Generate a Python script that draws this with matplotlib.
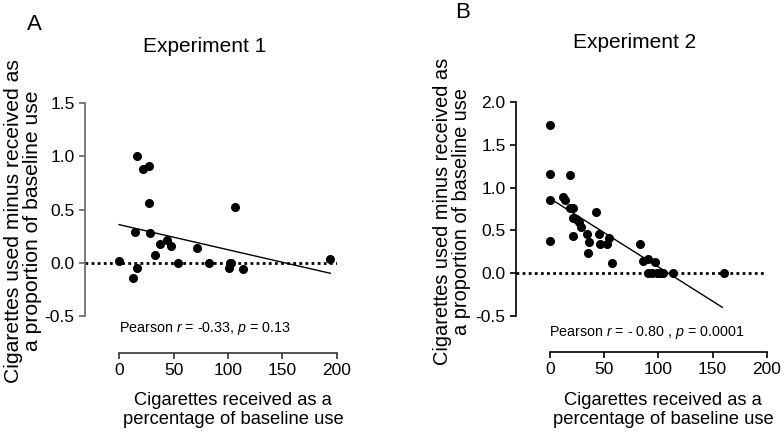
import numpy as np
import matplotlib
matplotlib.use('Agg')
import matplotlib.pyplot as plt

plt.rcParams['font.family'] = ['Liberation Sans', 'DejaVu Sans']
plt.rcParams['mathtext.fontset'] = 'custom'
plt.rcParams['mathtext.rm'] = 'Liberation Sans'
plt.rcParams['mathtext.it'] = 'Liberation Sans:italic'

# Experiment 1
x1 = [0, 12.5, 16.5, 14.4, 16.5, 21.7, 27.8, 27.8, 28.4, 33, 37.6, 44.3, 47.4,
      54, 71.2, 82.9, 101.8, 102.5, 101, 106.4, 114, 193.9]
y1 = [0.02, -0.14, -0.05, 0.29, 1.00, 0.88, 0.91, 0.56, 0.28, 0.08, 0.18, 0.22, 0.16,
      0.0, 0.14, 0.0, 0.0, 0.0, -0.05, 0.53, -0.06, 0.035]
fit1_x = [0, 194]
fit1_y = [0.36, -0.096]

# Experiment 2
x2 = [0, 0, 0, 0, 18.5, 11.7, 13.5, 18.5, 21.5, 20.9, 24, 27, 28.3, 21.5, 34.5,
      35.7, 35, 42.5, 45.5, 46.2, 52.3, 54.8, 57.6, 83, 86.2, 90.5, 97.3,
      90.5, 94.2, 98.5, 101.5, 104.6, 113.3, 160.7]
y2 = [1.73, 1.16, 0.86, 0.38, 1.15, 0.89, 0.86, 0.76, 0.76, 0.65, 0.63, 0.60, 0.54,
      0.44, 0.46, 0.36, 0.23, 0.71, 0.46, 0.34, 0.34, 0.41, 0.12, 0.34, 0.14,
      0.16, 0.13, 0.0, 0.0, 0.0, 0.0, 0.0, 0.0, 0.0]
fit2_x = [3, 159]
fit2_y = [0.85, -0.40]

xticks = [0, 50, 100, 150, 200]
yticks1 = [-0.5, 0.0, 0.5, 1.0, 1.5]
yticks2 = [-0.5, 0.0, 0.5, 1.0, 1.5, 2.0]

W, H = 784, 436
fig = plt.figure(figsize=(7.84, 4.36), dpi=100)
axA = fig.add_axes([0.1084, 0.191, 0.3214, 0.5728])
axB = fig.add_axes([0.6582, 0.1933, 0.3198, 0.5721])

xlab = 'Cigarettes received as a\npercentage of baseline use'
ylab = 'Cigarettes used minus received as\na proportion of baseline use'


def style(ax, x, y, fx, fy, yticks, ylim, leftcol, botcol, txt):
    ax.axhline(0, color='black', lw=2, ls=(0, (1, 1.2)), zorder=1)
    ax.plot(fx, fy, color='black', lw=1, zorder=2)
    ax.plot(x, y, 'o', color='black', ms=5.5, zorder=3, clip_on=False)
    ax.set_xlim(-31.3, 200)
    ax.set_ylim(*ylim)
    ax.set_xticks(xticks)
    ax.set_yticks(yticks)
    ax.set_yticklabels([f'{t:.1f}' for t in yticks])
    ax.spines['top'].set_visible(False)
    ax.spines['right'].set_visible(False)
    ax.spines['bottom'].set_bounds(0, 200)
    ax.spines['left'].set_bounds(yticks[0], yticks[-1])
    ax.spines['left'].set_color(leftcol)
    ax.spines['bottom'].set_color(botcol)
    ax.spines['left'].set_linewidth(1.2)
    ax.spines['bottom'].set_linewidth(1.2)
    ax.tick_params(axis='y', colors=leftcol, labelcolor='black', labelsize=12.5,
                   length=4, width=1.2)
    ax.tick_params(axis='x', colors=botcol, labelcolor='black', labelsize=12.5,
                   length=4, width=1.2)
    ax.text(-0.5, -0.61 if ylim[0] > -0.9 else -0.69, txt, fontsize=10.3,
            ha='left', va='center')


style(axA, x1, y1, fit1_x, fit1_y, yticks1, (-0.84, 1.5), '#666666', '#333333',
      'Pearson $\\it{r}$ = -0.33, $\\it{p}$ = 0.13')
style(axB, x2, y2, fit2_x, fit2_y, yticks2, (-0.92, 2.0), 'black', 'black',
      'Pearson $\\it{r}$ = - 0.80 , $\\it{p}$ = 0.0001')

# panel titles and letters
fig.text(205 / W, 1 - 47 / H, 'Experiment 1', fontsize=15, ha='center', va='center')
fig.text(635 / W, 1 - 43 / H, 'Experiment 2', fontsize=15, ha='center', va='center')
fig.text(34 / W, 1 - 25 / H, 'A', fontsize=16, ha='center', va='center')
fig.text(463 / W, 1 - 13 / H, 'B', fontsize=16, ha='center', va='center')

# axis labels
fig.text(233 / W, 1 - 410 / H, xlab, fontsize=13.2, ha='center', va='center',
         linespacing=1.1)
fig.text(663 / W, 1 - 410 / H, xlab, fontsize=13.2, ha='center', va='center',
         linespacing=1.1)
fig.text(23 / W, 1 - 221 / H, ylab, fontsize=15.2, ha='center', va='center',
         rotation=90, linespacing=0.95)
fig.text(452 / W, 1 - 211 / H, ylab, fontsize=14.4, ha='center', va='center',
         rotation=90, linespacing=1.0)

fig.savefig('out.png', dpi=100)
